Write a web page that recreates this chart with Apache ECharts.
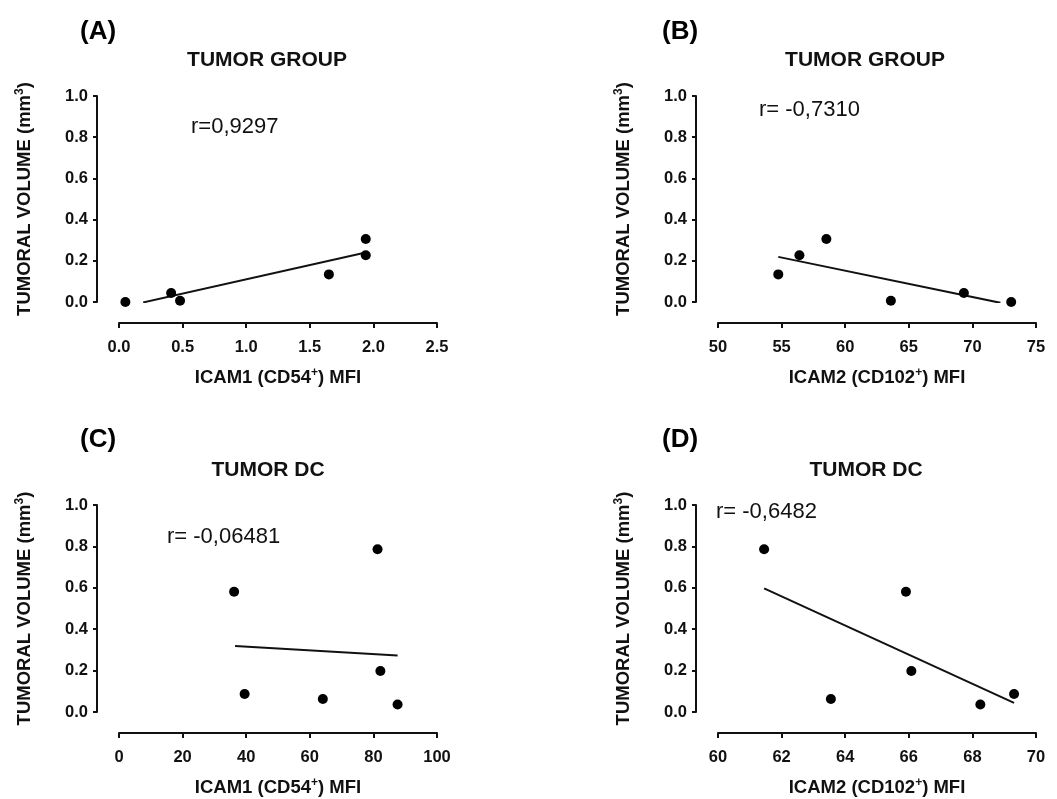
<!DOCTYPE html>
<html>
<head>
<meta charset="utf-8">
<title>ICAM correlations</title>
<script src="https://cdn.jsdelivr.net/npm/echarts@6/dist/echarts.min.js"></script>
<style>
    html, body { margin: 0; padding: 0; background: #fff; }
    #chart { width: 1057px; height: 799px; }
</style>
</head>
<body>
<div id="chart"></div>
<script>
// tumoral volume (mm3), shared by all panels
var yTicks = [0, 0.2, 0.4, 0.6, 0.8, 1.0];

// (A) tumor group, ICAM1
var icam1Group = [0.05, 0.41, 0.48, 1.65, 1.94, 1.94];
var volGroupA = [0.0, 0.044, 0.006, 0.134, 0.306, 0.227];
var fitA = [[0.19, -0.002], [1.94, 0.240]];

// (B) tumor group, ICAM2
var icam2Group = [54.74, 56.40, 58.52, 63.59, 69.33, 73.05];
var volGroupB = [0.134, 0.227, 0.306, 0.006, 0.044, 0.0];
var fitB = [[54.74, 0.219], [72.2, -0.004]];

// (C) tumor DC, ICAM1
var icam1Dc = [36.2, 39.5, 64.1, 81.3, 82.2, 87.6];
var volDcC = [0.581, 0.087, 0.063, 0.786, 0.198, 0.036];
var fitC = [[36.5, 0.319], [87.6, 0.273]];

// (D) tumor DC, ICAM2
var icam2Dc = [61.45, 63.55, 65.91, 66.08, 68.25, 69.31];
var volDcD = [0.786, 0.063, 0.581, 0.198, 0.036, 0.087];
var fitD = [[61.45, 0.597], [69.31, 0.044]];

var panelLabels = ['(A)', '(B)', '(C)', '(D)'];
var panelTitles = ['TUMOR GROUP', 'TUMOR GROUP', 'TUMOR DC', 'TUMOR DC'];
var rTexts = ['r=0,9297', 'r= -0,7310', 'r= -0,06481', 'r= -0,6482'];
var xNames = ['ICAM1 (CD54{sup|+}) MFI', 'ICAM2 (CD102{sup|+}) MFI', 'ICAM1 (CD54{sup|+}) MFI', 'ICAM2 (CD102{sup|+}) MFI'];
var xRanges = [[0, 2.5, 0.5], [50, 75, 5], [0, 100, 20], [60, 70, 2]];
var xDigits = [1, 0, 0, 0];

var FONT = '"Liberation Sans", Arial, sans-serif';

var chart = echarts.init(document.getElementById('chart'));

// grid boxes, left/top in px
var boxes = [
    { left: 119, top: 96, width: 318, height: 206 },
    { left: 718, top: 96, width: 318, height: 206 },
    { left: 119, top: 505, width: 318, height: 207 },
    { left: 718, top: 505, width: 318, height: 207 }
];
var textPos = [
    { label: [80, 32], title: [267, 60], r: [191, 127] },
    { label: [662, 32], title: [865, 60], r: [759, 110] },
    { label: [80, 440], title: [268, 470], r: [167, 537] },
    { label: [662, 440], title: [866, 470], r: [716, 512] }
];

function zip(xs, ys) {
    return xs.map(function (x, i) { return [x, ys[i]]; });
}

var scatterData = [
    zip(icam1Group, volGroupA),
    zip(icam2Group, volGroupB),
    zip(icam1Dc, volDcC),
    zip(icam2Dc, volDcD)
];
var fits = [fitA, fitB, fitC, fitD];

var supStyle = { fontFamily: FONT, fontWeight: 'bold', fontSize: 12, color: '#111', verticalAlign: 'top', padding: [0, 0, 9, 0] };

var grids = [], xAxes = [], yAxes = [], series = [], graphics = [];

boxes.forEach(function (b, i) {
    grids.push({ left: b.left, top: b.top, width: b.width, height: b.height });

    xAxes.push({
        type: 'value',
        gridIndex: i,
        min: xRanges[i][0],
        max: xRanges[i][1],
        interval: xRanges[i][2],
        offset: 21,
        name: xNames[i],
        nameLocation: 'middle',
        nameGap: 44,
        nameTextStyle: {
            fontFamily: FONT, fontWeight: 'bold', fontSize: 18.5, color: '#111',
            rich: { sup: supStyle }
        },
        splitLine: { show: false },
        axisLine: { show: true, onZero: false, lineStyle: { color: '#111', width: 2 } },
        axisTick: { show: true, length: 5, lineStyle: { color: '#111', width: 2 } },
        axisLabel: {
            margin: 16,
            fontFamily: FONT, fontWeight: 'bold', fontSize: 16.5, color: '#111',
            formatter: (function (d) { return function (v) { return v.toFixed(d); }; })(xDigits[i])
        }
    });

    yAxes.push({
        type: 'value',
        gridIndex: i,
        min: 0,
        max: 1,
        interval: 0.2,
        offset: 22,
        name: 'TUMORAL VOLUME (mm{sup|3})',
        nameLocation: 'middle',
        nameGap: 62,
        nameTextStyle: {
            fontFamily: FONT, fontWeight: 'bold', fontSize: 18.5, color: '#111',
            rich: { sup: supStyle }
        },
        splitLine: { show: false },
        axisLine: { show: true, onZero: false, lineStyle: { color: '#111', width: 2 } },
        axisTick: { show: true, length: 4, lineStyle: { color: '#111', width: 2 } },
        axisLabel: {
            margin: 9,
            fontFamily: FONT, fontWeight: 'bold', fontSize: 16.5, color: '#111',
            formatter: function (v) { return v.toFixed(1); }
        }
    });

    series.push({
        type: 'line',
        xAxisIndex: i,
        yAxisIndex: i,
        data: fits[i],
        symbol: 'none',
        silent: true,
        lineStyle: { color: '#111', width: 2 },
        z: 2
    });
    series.push({
        type: 'scatter',
        xAxisIndex: i,
        yAxisIndex: i,
        data: scatterData[i],
        symbol: 'circle',
        symbolSize: 10,
        itemStyle: { color: '#000', opacity: 1 },
        z: 3
    });

    var p = textPos[i];
    graphics.push({
        type: 'text', x: p.label[0], y: p.label[1],
        style: { text: panelLabels[i], font: 'bold 26px ' + FONT, fill: '#000', textAlign: 'left', textVerticalAlign: 'middle' }
    });
    graphics.push({
        type: 'text', x: p.title[0], y: p.title[1],
        style: { text: panelTitles[i], font: 'bold 21px ' + FONT, fill: '#111', textAlign: 'center', textVerticalAlign: 'middle' }
    });
    graphics.push({
        type: 'text', x: p.r[0], y: p.r[1],
        style: { text: rTexts[i], font: '22px ' + FONT, fill: '#111', textAlign: 'left', textVerticalAlign: 'middle' }
    });
});

var option = {
    backgroundColor: '#fff',
    animation: false,
    grid: grids,
    xAxis: xAxes,
    yAxis: yAxes,
    series: series,
    graphic: graphics
};

chart.setOption(option);
window.addEventListener('resize', function () {
    chart.resize();
});
</script>
</body>
</html>
